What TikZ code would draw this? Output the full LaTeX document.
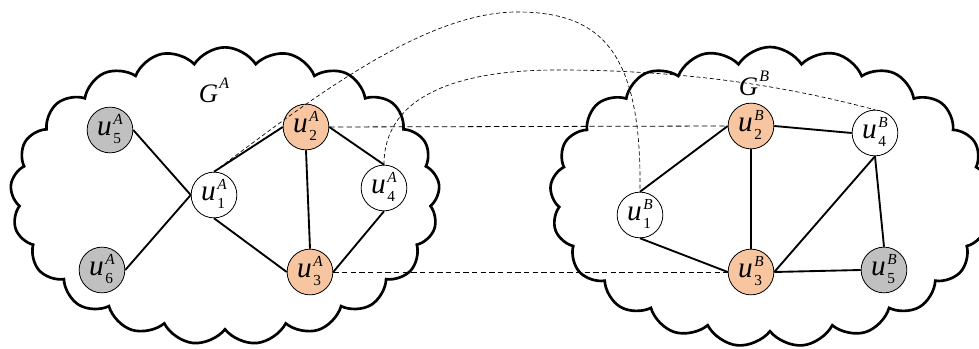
\documentclass[tikz,border=0pt]{standalone}
\usepackage{fontspec}
\setmainfont{Liberation Serif}
\usetikzlibrary{shapes.symbols}
\usepackage{xcolor}
\definecolor{peach}{RGB}{247,198,160}
\definecolor{shade}{RGB}{192,192,192}

% vertex label u_i^X, index stacked under the network letter
\newcommand{\ulab}[2]{\textit{u}\kern1.2pt\raisebox{-5.5pt}{\fontsize{11.5}{14.2}\selectfont\begin{tabular}[b]{@{}l@{}}\textit{#2}\\#1\end{tabular}}}
\newcommand{\glab}[1]{\textit{G}\kern1pt\raisebox{10.5pt}{\fontsize{12}{12}\selectfont\textit{#1}}}

\begin{document}
\begin{tikzpicture}[
    x=0.75pt, y=-0.75pt,
    region/.style={cloud, draw, line width=2pt, cloud puffs=21, cloud puff arc=115, inner sep=0pt, aspect=1.45},
    vertex/.style={circle, draw, line width=0.6pt, minimum size=33pt, inner sep=0pt, font=\fontsize{22}{22}\selectfont},
    plain/.style={vertex, fill=white},
    matched/.style={vertex, fill=peach},
    outer/.style={vertex, fill=shade},
    edge/.style={line width=1.4pt},
    link/.style={line width=0.6pt, dash pattern=on 4pt off 2.5pt},
    curvelink/.style={line width=0.5pt, dash pattern=on 3pt off 2pt}
]
    \useasboundingbox (0,0) rectangle (979,349);

    % the two networks
    \node[region, minimum width=322pt, minimum height=223pt] (ca) at (225,196) {};
    \node[region, minimum width=330pt, minimum height=225pt] (cb) at (770,197) {};
    \node[font=\fontsize{20}{20}\selectfont] (ga) at (214,90) {\glab{A}};
    \node[font=\fontsize{20}{20}\selectfont] (gb) at (754,83) {\glab{B}};

    % network A
    \node[outer] (a5) at (110,130) {\ulab{5}{A}};
    \node[outer] (a6) at (102,270) {\ulab{6}{A}};
    \node[plain] (a1) at (214,195) {\ulab{1}{A}};
    \node[matched] (a2) at (306,127) {\ulab{2}{A}};
    \node[matched] (a3) at (310,272) {\ulab{3}{A}};
    \node[plain] (a4) at (384,188) {\ulab{4}{A}};

    % network B
    \node[plain] (b1) at (640,215) {\ulab{1}{B}};
    \node[matched] (b2) at (751,126) {\ulab{2}{B}};
    \node[matched] (b3) at (751,272) {\ulab{3}{B}};
    \node[plain] (b4) at (875,133) {\ulab{4}{B}};
    \node[outer] (b5) at (884,270) {\ulab{5}{B}};

    % anchor links between the networks
    \draw[link] (a2.east) -- (b2.west);
    \draw[link] (a3.east) -- (b3.west);
    \draw[curvelink] (a1.north) .. controls (300,108) and (420,12) .. (517,12)
        .. controls (600,12) and (642,50) .. (b1.north);
    \draw[curvelink] (a4.north) .. controls (384,90) and (470,70) .. (557,70)
        .. controls (700,70) and (800,90) .. (b4.north);

    \draw[edge] (a5.east) -- (a1.west);
    \draw[edge] (a6.east) -- (a1.west);
    \draw[edge] (a1.north) -- (a2.west);
    \draw[edge] (a1.south) -- (a3.west);
    \draw[edge] (a2.south) -- (a3.north);
    \draw[edge] (a2.east) -- (a4.north);
    \draw[edge] (a3.east) -- (a4.south);

    \draw[edge] (b1.north) -- (b2.west);
    \draw[edge] (b1.south) -- (b3.west);
    \draw[edge] (b2.south) -- (b3.north);
    \draw[edge] (b2.east) -- (b4.west);
    \draw[edge] (b4.south) -- (b3.east);
    \draw[edge] (b4.south) -- (b5.north);
    \draw[edge] (b3.east) -- (b5.west);
\end{tikzpicture}
\end{document}
